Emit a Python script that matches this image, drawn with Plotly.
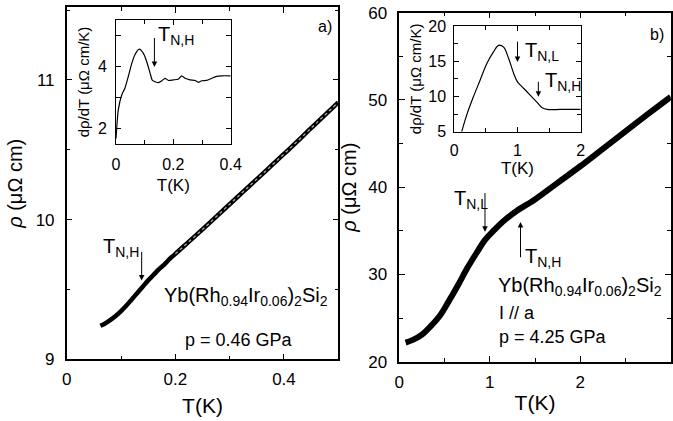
import plotly.graph_objects as go

# ---- Panel a: main curve (p = 0.46 GPa)
Ta = [0.062, 0.07, 0.08, 0.09, 0.10, 0.11, 0.12, 0.13, 0.14, 0.15, 0.16, 0.17,
      0.18, 0.19, 0.20, 0.25, 0.30, 0.35, 0.40, 0.45, 0.50]
rhoa = [9.24, 9.255, 9.28, 9.31, 9.345, 9.385, 9.43, 9.475, 9.52, 9.565, 9.605, 9.645,
        9.68, 9.72, 9.755, 9.93, 10.11, 10.29, 10.47, 10.655, 10.84]

# ---- Panel a inset: drho/dT
Tia = [0.0, 0.008, 0.02, 0.031, 0.043, 0.055, 0.066, 0.081, 0.095, 0.107, 0.119, 0.127,
       0.136, 0.148, 0.16, 0.171, 0.183, 0.2, 0.217, 0.229, 0.241, 0.258, 0.276, 0.287,
       0.299, 0.316, 0.334, 0.351, 0.369, 0.4]
dia = [1.68, 2.6, 3.08, 3.3, 3.68, 4.1, 4.38, 4.56, 4.43, 4.16, 3.78, 3.55,
       3.51, 3.48, 3.54, 3.62, 3.55, 3.57, 3.59, 3.70, 3.62, 3.57, 3.55, 3.49,
       3.54, 3.55, 3.62, 3.68, 3.70, 3.70]

# ---- Panel b: main curve (p = 4.25 GPa)
Tb = [0.07, 0.15, 0.25, 0.35, 0.45, 0.55, 0.65, 0.75, 0.85, 0.95, 1.05, 1.15, 1.3,
      1.5, 1.75, 2.0, 2.25, 2.5, 2.75, 3.0]
rhob = [22.2, 22.5, 23.1, 24.1, 25.3, 27.0, 28.8, 30.7, 32.4, 34.0, 35.1, 36.1, 37.3,
        38.6, 40.5, 42.4, 44.4, 46.4, 48.4, 50.35]

# ---- Panel b inset: drho/dT
Tib = [0.117, 0.196, 0.302, 0.408, 0.515, 0.62, 0.70, 0.78, 0.86, 0.94, 1.0, 1.1,
       1.2, 1.31, 1.39, 1.47, 1.68, 2.0]
dib = [5.0, 7.36, 9.95, 12.3, 14.67, 16.32, 17.26, 17.0, 15.4, 13.25, 12.08, 11.13,
       10.19, 9.15, 8.4, 8.16, 8.16, 8.16]

FONT = "Liberation Sans, Arial, sans-serif"
W, H = 673, 421

def dom_x(a, b):
    return [a / W, b / W]

def dom_y(top, bot):
    return [1 - bot / H, 1 - top / H]

fig = go.Figure()

# panel a
fig.add_trace(go.Scatter(x=Ta, y=rhoa, mode="lines", line=dict(color="black", width=4.5, shape="spline"),
                         xaxis="x", yaxis="y", showlegend=False))
fig.add_trace(go.Scatter(x=Ta[14:], y=rhoa[14:], mode="lines",
                         line=dict(color="#a8a8a8", width=1.3, dash="dot", shape="spline"),
                         xaxis="x", yaxis="y", showlegend=False))
# panel b
fig.add_trace(go.Scatter(x=Tb, y=rhob, mode="lines", line=dict(color="black", width=6, shape="spline"),
                         xaxis="x2", yaxis="y2", showlegend=False))
# inset a
fig.add_trace(go.Scatter(x=Tia, y=dia, mode="lines", line=dict(color="black", width=1.2, shape="spline", smoothing=0.6),
                         xaxis="x3", yaxis="y3", showlegend=False))
# inset b
fig.add_trace(go.Scatter(x=Tib, y=dib, mode="lines", line=dict(color="black", width=1.2, shape="spline"),
                         xaxis="x4", yaxis="y4", showlegend=False))

def ax(domain, rng, dtick, minor_dtick, anchor, size=17, ticklen=6, minorlen=3.5, lw=1.5, standoff=4, **kw):
    d = dict(domain=domain, range=rng, dtick=dtick, tick0=0, anchor=anchor, automargin=False,
             showline=True, linecolor="black", linewidth=lw, mirror="allticks",
             ticks="inside", ticklen=ticklen, tickwidth=1, tickcolor="black",
             minor=dict(ticks="inside", dtick=minor_dtick, tick0=0, ticklen=minorlen, tickcolor="black", tickwidth=1),
             showgrid=False, zeroline=False,
             tickfont=dict(family=FONT, size=size, color="black"),
             ticklabelstandoff=standoff)
    d.update(kw)
    return d

fig.update_layout(
    width=W, height=H, margin=dict(l=0, r=0, t=0, b=0),
    paper_bgcolor="white", plot_bgcolor="rgba(0,0,0,0)",
    font=dict(family=FONT, color="black"),
    xaxis=ax(dom_x(66.7, 338.3), [0, 0.5], 0.2, 0.1, "y",
             title=dict(text="T(K)", font=dict(size=21, family=FONT), standoff=10)),
    yaxis=ax(dom_y(7.3, 359.3), [9, 11.52], 1, 0.5, "x", standoff=7,
             title=dict(text="<i>ρ</i> (μΩ cm)", font=dict(size=20, family=FONT), standoff=8)),
    xaxis2=ax(dom_x(399.3, 670.7), [0, 3], 1, 0.5, "y2",
              title=dict(text="T(K)", font=dict(size=21, family=FONT), standoff=4)),
    yaxis2=ax(dom_y(12.7, 361.7), [20, 60], 10, 5, "x2", standoff=7,
              title=dict(text="<i>ρ</i> (μΩ cm)", font=dict(size=20, family=FONT), standoff=6)),
    xaxis3=ax(dom_x(116, 230.7), [0, 0.4], 0.2, 0.1, "y3", size=16, ticklen=5, minorlen=4, lw=1, standoff=6,
              title=dict(text="T(K)", font=dict(size=17, family=FONT), standoff=6)),
    yaxis3=ax(dom_y(20, 144), [1.5, 5.5], 2, 1, "x3", size=16, ticklen=5, minorlen=5, lw=1, standoff=5,
              title=dict(text="dρ/dT (μΩ cm/K)", font=dict(size=15, family=FONT), standoff=4)),
    xaxis4=ax(dom_x(454.3, 580.7), [0, 2], 1, 0.5, "y4", size=16, ticklen=5, minorlen=4, lw=1, standoff=4,
              title=dict(text="T(K)", font=dict(size=17, family=FONT), standoff=2)),
    yaxis4=ax(dom_y(26, 131.7), [5, 20], 5, 2.5, "x4", size=16, ticklen=5, minorlen=4, lw=1, standoff=4,
              title=dict(text="dρ/dT (μΩ cm/K)", font=dict(size=15, family=FONT), standoff=3)),
)

anns = []
def arrow(xref, yref, x, y, ax_, ay_):
    anns.append(dict(xref=xref, yref=yref, x=x, y=y, ax=ax_, ay=ay_, axref=xref, ayref=yref,
                     showarrow=True, arrowhead=2, arrowsize=1.1, arrowwidth=1, arrowcolor="black", text=""))

def label(xref, yref, x, y, text, size, xanchor="left", yanchor="middle"):
    anns.append(dict(xref=xref, yref=yref, x=x, y=y, text=text, showarrow=False,
                     xanchor=xanchor, yanchor=yanchor, font=dict(family=FONT, size=size, color="black")))

# panel a arrows and labels
arrow("x", "y", 0.138, 9.565, 0.138, 9.78)
label("x", "y", 0.064, 9.80, "T<sub>N,H</sub>", 20)
label("x", "y", 0.175, 9.45, "Yb(Rh<sub>0.94</sub>Ir<sub>0.06</sub>)<sub>2</sub>Si<sub>2</sub>", 20)
label("x", "y", 0.214, 9.14, "p = 0.46 GPa", 18)
label("x", "y", 0.492, 11.38, "a)", 16, xanchor="right")

# inset a arrow + label
arrow("x3", "y3", 0.134, 3.98, 0.134, 4.97)
label("x3", "y3", 0.138, 5.0, "T<sub>N,H</sub>", 20)

# panel b arrows and labels
arrow("x2", "y2", 0.947, 34.9, 0.947, 39.5)
label("x2", "y2", 0.58, 38.6, "T<sub>N,L</sub>", 20)
arrow("x2", "y2", 1.34, 36.0, 1.34, 31.8)
label("x2", "y2", 1.37, 32.0, "T<sub>N,H</sub>", 20)
label("x2", "y2", 1.07, 28.6, "Yb(Rh<sub>0.94</sub>Ir<sub>0.06</sub>)<sub>2</sub>Si<sub>2</sub>", 20)
label("x2", "y2", 1.08, 25.6, "I // a", 18)
label("x2", "y2", 1.08, 22.8, "p = 4.25 GPa", 18)
label("x2", "y2", 2.95, 57.5, "b)", 16, xanchor="right")

# inset b arrows + labels
arrow("x4", "y4", 1.0, 14.9, 1.0, 18.0)
label("x4", "y4", 1.08, 16.4, "T<sub>N,L</sub>", 20)
arrow("x4", "y4", 1.33, 9.95, 1.33, 12.3)
label("x4", "y4", 1.40, 12.1, "T<sub>N,H</sub>", 20)

fig.update_layout(annotations=anns)
fig.write_html("out.html", config={"displayModeBar": False},
               post_script="document.body.style.margin='0';document.body.style.padding='0';")
